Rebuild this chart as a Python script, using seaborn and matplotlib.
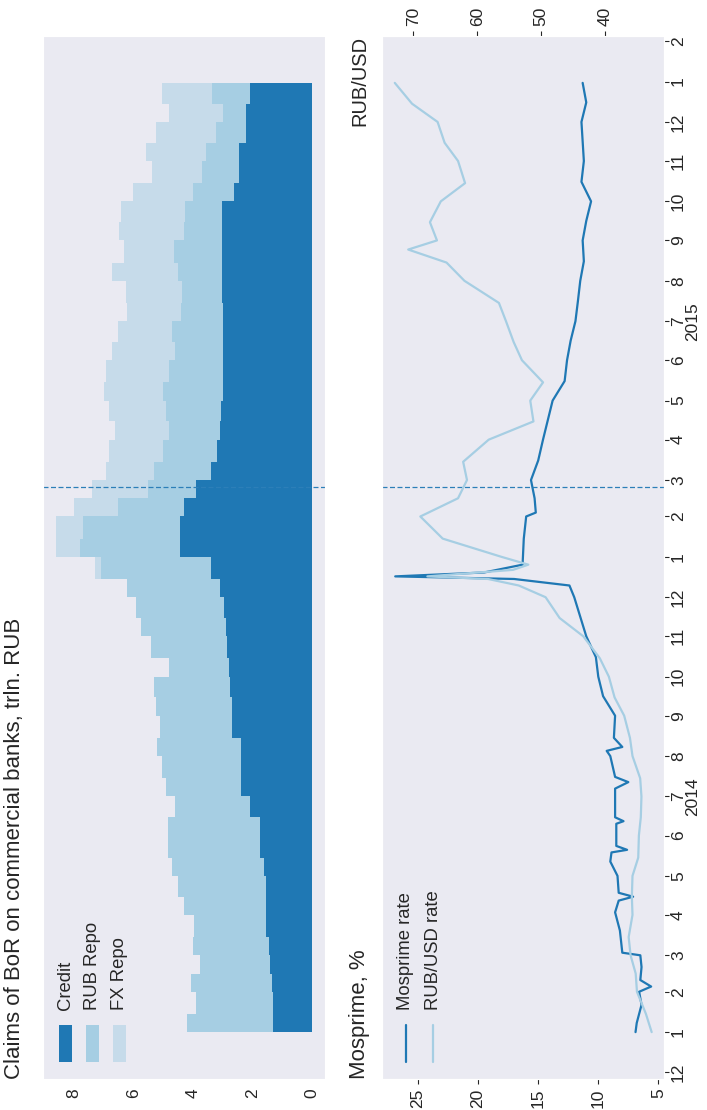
import matplotlib
matplotlib.use('Agg')
import matplotlib.pyplot as plt
import matplotlib.dates as mdates
from matplotlib.patches import Rectangle
from matplotlib.lines import Line2D
from matplotlib.ticker import FuncFormatter
import numpy as np
import pandas as pd
import seaborn as sns

sns.set_style('dark')
plt.rcParams['font.family'] = ['Liberation Sans', 'DejaVu Sans']

# claims of BoR on commercial banks, trln. RUB (semi-monthly readings)
claim_dates = list(pd.date_range('2014-01-01', '2015-12-15', freq='SMS')) + [pd.Timestamp('2015-12-31')]
credit = [1.30, 1.30, 1.35, 1.40, 1.45, 1.55, 1.55, 1.55, 1.60, 1.75, 1.75, 2.10,
          2.40, 2.40, 2.40, 2.70, 2.70, 2.75, 2.80, 2.85, 2.90, 2.95, 3.10, 3.40,
          4.45, 4.45, 4.30, 3.90, 3.40, 3.20, 3.10, 3.05, 3.00, 3.00, 3.00, 3.00,
          3.00, 3.03, 3.03, 3.03, 3.03, 3.03, 2.63, 2.47, 2.47, 2.23, 2.23, 2.07, 2.07]
rub_repo = [2.90, 2.60, 2.70, 2.35, 2.55, 2.40, 2.75, 2.95, 3.10, 3.10, 3.10, 2.50,
            2.50, 2.65, 2.80, 2.40, 2.55, 2.55, 2.00, 2.55, 2.85, 2.95, 3.10, 3.70,
            3.35, 3.25, 2.20, 1.60, 1.90, 1.80, 1.70, 1.85, 2.00, 1.80, 1.60, 1.70,
            1.40, 1.34, 1.47, 1.60, 1.27, 1.22, 1.37, 1.23, 1.10, 1.00, 0.77, 1.30, 1.73]
fx_repo = [0, 0, 0, 0, 0, 0, 0, 0, 0, 0, 0, 0,
           0, 0, 0, 0, 0, 0, 0, 0, 0, 0, 0, 0.20,
           0.80, 0.90, 1.50, 1.90, 1.60, 1.80, 1.80, 1.90, 2.00, 2.10, 2.10, 1.80,
           1.80, 1.86, 2.20, 1.67, 2.17, 2.15, 2.00, 1.67, 2.00, 2.00, 1.80, 1.66, 1.73]

# Mosprime, %
mos_dates = pd.to_datetime([
    '2014-01-01', '2014-01-08', '2014-01-22', '2014-02-01', '2014-02-05', '2014-02-10',
    '2014-02-20', '2014-03-01', '2014-03-03', '2014-03-20', '2014-04-03', '2014-04-12',
    '2014-04-15', '2014-04-18', '2014-05-01', '2014-05-12', '2014-05-19', '2014-05-21',
    '2014-05-24', '2014-06-10', '2014-06-12', '2014-06-15', '2014-07-07', '2014-07-12',
    '2014-07-16', '2014-08-01', '2014-08-05', '2014-08-08', '2014-08-15', '2014-09-01',
    '2014-09-16', '2014-10-01', '2014-10-16', '2014-11-01', '2014-11-16', '2014-12-01',
    '2014-12-10', '2014-12-15', '2014-12-17', '2014-12-20', '2014-12-26', '2015-01-15',
    '2015-02-01', '2015-02-04', '2015-02-15', '2015-03-01', '2015-03-16', '2015-04-01',
    '2015-04-16', '2015-05-01', '2015-05-16', '2015-06-01', '2015-06-16', '2015-07-01',
    '2015-07-16', '2015-08-01', '2015-08-16', '2015-09-01', '2015-09-16', '2015-10-01',
    '2015-10-16', '2015-11-01', '2015-11-16', '2015-12-01', '2015-12-16', '2015-12-31'])
mosprime = [6.9, 6.8, 6.4, 6.6, 5.6, 6.5,
            6.4, 6.5, 8.0, 8.2, 8.6, 8.3,
            7.1, 8.3, 8.4, 9.0, 8.9, 7.6,
            8.5, 8.5, 7.9, 8.6, 8.6, 7.5,
            8.6, 9.0, 9.3, 8.0, 8.7, 8.6,
            9.6, 10.0, 10.2, 11.0, 11.5, 12.0,
            12.4, 17.0, 26.9, 19.5, 16.3, 16.2,
            16.0, 15.2, 15.3, 15.6, 15.0, 14.6,
            14.2, 13.8, 12.8, 12.6, 12.3, 11.9,
            11.7, 11.5, 11.2, 11.3, 11.0, 10.6,
            11.4, 11.2, 11.3, 11.4, 11.0, 11.3]

# RUB/USD
usd_dates = pd.to_datetime([
    '2014-01-01', '2014-01-15', '2014-02-01', '2014-02-15', '2014-03-01', '2014-03-15',
    '2014-04-01', '2014-04-15', '2014-05-01', '2014-05-15', '2014-06-01', '2014-06-15',
    '2014-07-01', '2014-07-15', '2014-08-01', '2014-08-15', '2014-09-01', '2014-09-15',
    '2014-10-01', '2014-10-15', '2014-11-01', '2014-11-15', '2014-12-01', '2014-12-10',
    '2014-12-15', '2014-12-17', '2014-12-22', '2014-12-26', '2015-01-01', '2015-01-15',
    '2015-02-01', '2015-02-15', '2015-03-01', '2015-03-15', '2015-04-01', '2015-04-15',
    '2015-05-01', '2015-05-15', '2015-06-01', '2015-06-15', '2015-07-01', '2015-07-15',
    '2015-08-01', '2015-08-15', '2015-08-25', '2015-09-01', '2015-09-15', '2015-10-01',
    '2015-10-15', '2015-11-01', '2015-11-15', '2015-12-01', '2015-12-15', '2015-12-31'])
usdrub = [32.7, 33.6, 35.0, 35.2, 36.0, 36.3,
          35.7, 35.8, 35.7, 34.8, 34.7, 34.4,
          34.3, 34.5, 35.7, 36.1, 37.0, 38.5,
          39.4, 40.8, 43.4, 47.1, 49.3, 53.5,
          58.3, 67.8, 54.4, 52.0, 56.2, 65.4,
          68.9, 63.0, 61.6, 62.2, 58.2, 51.2,
          51.7, 49.7, 53.0, 54.3, 55.5, 56.6,
          62.0, 64.8, 70.8, 66.3, 67.4, 65.7,
          61.9, 63.0, 65.1, 66.2, 70.2, 72.9]

event_date = pd.Timestamp('2015-02-24')

dark = '#1f78b4'
mid = '#a6cee3'
light = '#c6dbea'
fs_tick = 12.5
fs_leg = 13.3

fig = plt.figure(figsize=(7.07, 11.1), dpi=100)
ax1 = fig.add_axes([43 / 707, 31 / 1110, 282 / 707, 1043 / 1110])
ax2 = fig.add_axes([382 / 707, 31 / 1110, 282 / 707, 1043 / 1110], sharey=ax1)

lo = np.zeros(len(credit))
for vals, col in zip([credit, rub_repo, fx_repo], [dark, mid, light]):
    hi = lo + np.array(vals)
    ax1.fill_betweenx(claim_dates, lo, hi, step='post', color=col, lw=0)
    lo = hi
ax1.invert_xaxis()
ax1.set_xticks([0, 2, 4, 6, 8])
ax1.tick_params(axis='x', labelrotation=90, labelsize=fs_tick)
ax1.tick_params(axis='y', labelleft=False)

mos_df = pd.DataFrame({'date': mos_dates, 'rate': mosprime})
usd_df = pd.DataFrame({'date': usd_dates, 'rate': usdrub})
sns.lineplot(data=mos_df, x='rate', y='date', orient='y', ax=ax2, color=dark, lw=1.6)
ax3 = ax2.twiny()
sns.lineplot(data=usd_df, x='rate', y='date', orient='y', ax=ax3, color=mid, lw=1.6)

ax2.set_xlim(28.0, 4.53)
ax3.set_xlim(74.9, 30.77)
ax2.set_xticks([5, 10, 15, 20, 25])
ax3.set_xticks([40, 50, 60, 70])
for a in (ax2, ax3):
    a.set_xlabel('')
    a.set_ylabel('')
ax2.tick_params(axis='x', labelrotation=90, labelsize=fs_tick)
ax3.tick_params(axis='x', labelrotation=90, labelsize=fs_tick)

ax2.set_ylim(pd.Timestamp('2013-11-26'), pd.Timestamp('2016-02-05'))
ax2.yaxis.set_major_locator(mdates.MonthLocator())


def month_fmt(x, pos):
    d = mdates.num2date(x)
    if d.month == 7:
        return f'{d.month}\n{d.year}'
    return str(d.month)


ax2.yaxis.set_major_formatter(FuncFormatter(month_fmt))
ax2.yaxis.tick_right()
ax2.tick_params(axis='y', labelright=True, labelleft=False, labelrotation=90,
                labelsize=fs_tick, pad=1.5)
ax3.tick_params(axis='y', labelright=False, labelleft=False)
for lab in ax2.get_yticklabels():
    lab.set_va('center')
    lab.set_multialignment('center')
    lab.set_linespacing(0.95)

for a in (ax1, ax2):
    a.axhline(event_date, ls=(0, (4, 2)), lw=0.9, color='#2c7fb8')

# titles
fig.text(15 / 707, 31 / 1110, 'Claims of BoR on commercial banks, trln. RUB',
         rotation=90, ha='center', va='bottom', fontsize=16, color='.15')
fig.text(360 / 707, 31 / 1110, 'Mosprime, %', rotation=90, ha='center', va='bottom',
         fontsize=16, color='.15')
fig.text(360 / 707, 1074 / 1110, 'RUB/USD', rotation=90, ha='center', va='top',
         fontsize=14.5, color='.15')

# legends
for i, (col, lab) in enumerate(zip([dark, mid, light], ['Credit', 'RUB Repo', 'FX Repo'])):
    xc = (65.5 + 27 * i - 43) / 282
    ax1.add_patch(Rectangle((xc - 0.023, 0.0163), 0.046, 0.0355, transform=ax1.transAxes,
                            color=col, lw=0))
    ax1.text(xc, 0.066, lab, transform=ax1.transAxes, rotation=90, ha='center', va='bottom',
             fontsize=fs_leg, color='.15')
for i, (col, lab) in enumerate(zip([dark, mid], ['Mosprime rate', 'RUB/USD rate'])):
    xc = (406 + 27 * i - 382) / 282
    ax2.add_line(Line2D([xc, xc], [0.0163, 0.0518], transform=ax2.transAxes, color=col, lw=1.6))
    ax2.text(xc, 0.066, lab, transform=ax2.transAxes, rotation=90, ha='center', va='bottom',
             fontsize=fs_leg, color='.15')

fig.savefig('out.png', dpi=100)
